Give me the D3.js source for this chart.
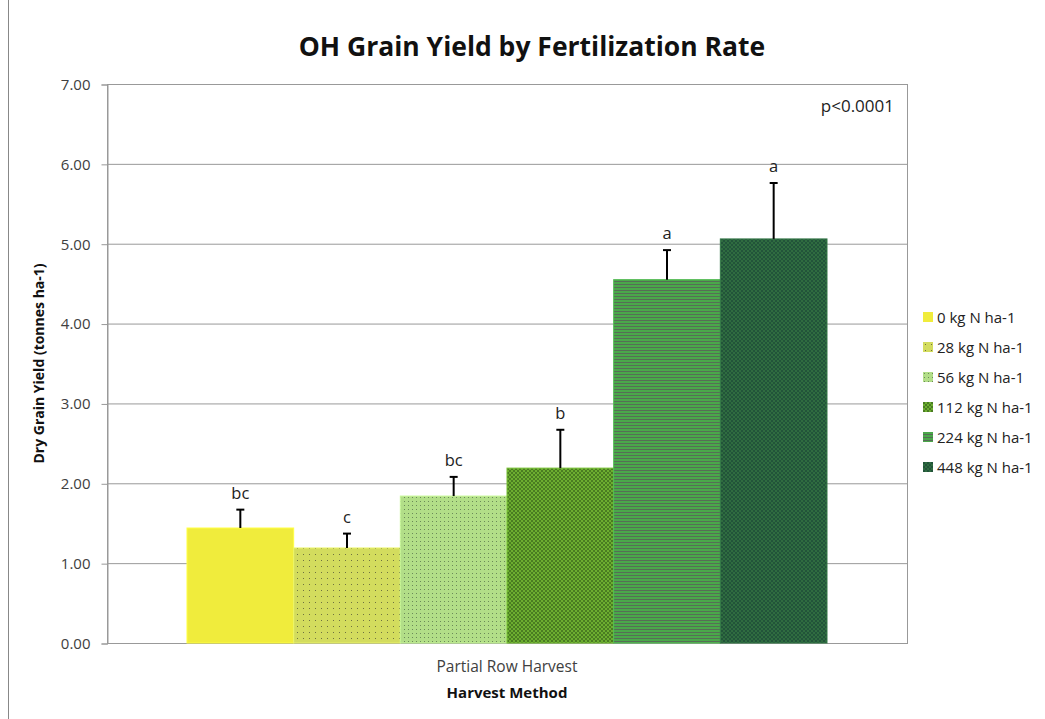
<!DOCTYPE html>
<html lang="en">
<head>
  <meta charset="UTF-8">
  <title>OH Grain Yield by Fertilization Rate</title>
  <style>
    body { margin: 0; background: #fff; }
  </style>
</head>
<body>
  <script src="https://d3js.org/d3.v7.min.js"></script>
  <script>
    const categories = ["Partial Row Harvest"];
    const rates = ["0 kg N ha-1", "28 kg N ha-1", "56 kg N ha-1", "112 kg N ha-1", "224 kg N ha-1", "448 kg N ha-1"];
    const yields = [1.44, 1.19, 1.84, 2.19, 4.55, 5.06];
    const errors = [0.23, 0.18, 0.24, 0.48, 0.37, 0.70];
    const letters = ["bc", "c", "bc", "b", "a", "a"];
    const yTicks = [0, 1, 2, 3, 4, 5, 6, 7];

    const [width, height] = [1045, 719];
    const margin = { top: 84, right: 138, bottom: 76, left: 107 };
    const font = "'Open Sans', Lato, sans-serif";

    const svg = d3.select(document.body)
      .append("svg")
      .attr("width", width)
      .attr("height", height)
      .attr("font-family", font);

    // patterns for the bars
    const defs = svg.append("defs");
    const pat = (id, w, h, bg, draw) => {
      const p = defs.append("pattern").attr("id", id)
        .attr("patternUnits", "userSpaceOnUse")
        .attr("width", w).attr("height", h);
      p.append("rect").attr("width", w).attr("height", h).attr("fill", bg);
      draw(p);
    };
    pat("p0", 4, 4, "#f0ec3c", () => {});
    pat("p1", 6, 6, "#d3dc5e", p => p.append("rect").attr("x", 2).attr("y", 2).attr("width", 1).attr("height", 1).attr("fill", "#6f7240"));
    pat("p2", 4, 4, "#b2de88", p => p.append("rect").attr("x", 1).attr("y", 1).attr("width", 1).attr("height", 1).attr("fill", "#6a8a58"));
    pat("p3", 4, 4, "#6cae30", p => {
      p.append("rect").attr("width", 2).attr("height", 2).attr("fill", "#4a7c22");
      p.append("rect").attr("x", 2).attr("y", 2).attr("width", 2).attr("height", 2).attr("fill", "#4a7c22");
    });
    pat("p4", 4, 3, "#4aa84a", p => p.append("rect").attr("y", 2).attr("width", 4).attr("height", 1).attr("fill", "#566e56"));
    pat("p5", 4, 4, "#2f6c40", p => {
      p.append("rect").attr("width", 2).attr("height", 2).attr("fill", "#22543a");
      p.append("rect").attr("x", 2).attr("y", 2).attr("width", 2).attr("height", 2).attr("fill", "#22543a");
    });
    const baseColors = ["#f0ec3c", "#d3dc5e", "#b2de88", "#6cae30", "#4aa84a", "#2f6c40"];
    const fills = rates.map((d, i) => `url(#p${i})`);

    // outer chart border
    svg.append("rect")
      .attr("x", 8.5).attr("y", -2)
      .attr("width", width).attr("height", height + 4)
      .attr("fill", "none").attr("stroke", "#888");

    const x0 = d3.scaleBand()
      .domain(categories)
      .range([margin.left, width - margin.right])
      .paddingInner(0)
      .paddingOuter(0.125);

    const x1 = d3.scaleBand()
      .domain(rates)
      .range([0, x0.bandwidth()]);

    const y = d3.scaleLinear()
      .domain([0, 7])
      .range([height - margin.bottom, margin.top]);

    // gridlines
    svg.append("g")
      .selectAll("line")
      .data(yTicks)
      .join("line")
      .attr("x1", margin.left)
      .attr("x2", width - margin.right)
      .attr("y1", d => y(d) + 0.5)
      .attr("y2", d => y(d) + 0.5)
      .attr("stroke", "#999");

    // plot frame
    svg.append("rect")
      .attr("x", margin.left + 0.5)
      .attr("y", margin.top + 0.5)
      .attr("width", width - margin.right - margin.left)
      .attr("height", height - margin.bottom - margin.top)
      .attr("fill", "none")
      .attr("stroke", "#999");

    // y axis
    svg.append("g")
      .attr("transform", `translate(${margin.left + 0.5},0.5)`)
      .call(d3.axisLeft(y).tickValues(yTicks).tickFormat(d3.format(".2f")).tickSize(6).tickPadding(11))
      .call(g => g.select(".domain").attr("stroke", "#999"))
      .call(g => g.selectAll(".tick line").attr("stroke", "#999"))
      .call(g => g.selectAll(".tick text")
        .attr("font-family", font)
        .attr("font-size", 15)
        .attr("fill", "#404040"));

    // bars
    const group = svg.append("g")
      .attr("transform", `translate(${x0(categories[0])},0)`);

    const bars = rates.map((r, i) => ({ rate: r, value: yields[i], err: errors[i], letter: letters[i], fill: fills[i], color: baseColors[i] }));

    group.selectAll("rect.bar")
      .data(bars)
      .join("rect")
      .attr("class", "bar")
      .attr("x", d => x1(d.rate))
      .attr("width", x1.bandwidth())
      .attr("y", d => y(d.value))
      .attr("height", d => y(0) - y(d.value))
      .attr("fill", d => d.fill)
      .attr("stroke", d => d3.color(d.color).brighter(0.3))
      .attr("stroke-width", 1);

    // error bars
    const cx = d => x1(d.rate) + x1.bandwidth() / 2;
    group.selectAll("line.err")
      .data(bars)
      .join("line")
      .attr("class", "err")
      .attr("x1", cx).attr("x2", cx)
      .attr("y1", d => y(d.value))
      .attr("y2", d => y(d.value + d.err))
      .attr("stroke", "#000")
      .attr("stroke-width", 2);
    group.selectAll("line.cap")
      .data(bars)
      .join("line")
      .attr("class", "cap")
      .attr("x1", d => cx(d) - 4).attr("x2", d => cx(d) + 4)
      .attr("y1", d => y(d.value + d.err))
      .attr("y2", d => y(d.value + d.err))
      .attr("stroke", "#000")
      .attr("stroke-width", 2);

    // letters
    group.selectAll("text.letter")
      .data(bars)
      .join("text")
      .attr("class", "letter")
      .attr("x", cx)
      .attr("y", d => y(d.value + d.err) - 11)
      .attr("text-anchor", "middle")
      .attr("font-size", 16.5)
      .attr("fill", "#222")
      .text(d => d.letter);

    // x category label
    svg.append("text")
      .attr("x", x0(categories[0]) + x0.bandwidth() / 2)
      .attr("y", 672)
      .attr("text-anchor", "middle")
      .attr("font-size", 15.5)
      .attr("fill", "#404040")
      .text(categories[0]);

    // axis titles
    svg.append("text")
      .attr("x", x0(categories[0]) + x0.bandwidth() / 2)
      .attr("y", 698)
      .attr("text-anchor", "middle")
      .attr("font-size", 15)
      .attr("font-weight", "bold")
      .attr("fill", "#111")
      .text("Harvest Method");

    svg.append("text")
      .attr("transform", `translate(44,${(margin.top + height - margin.bottom) / 2}) rotate(-90)`)
      .attr("text-anchor", "middle")
      .attr("font-size", 14)
      .attr("font-weight", "bold")
      .attr("fill", "#111")
      .text("Dry Grain Yield (tonnes ha-1)");

    // title
    svg.append("text")
      .attr("x", 532)
      .attr("y", 56)
      .attr("text-anchor", "middle")
      .attr("font-size", 26.5)
      .attr("font-weight", "bold")
      .attr("fill", "#111")
      .text("OH Grain Yield by Fertilization Rate");

    // p-value
    svg.append("text")
      .attr("x", 894)
      .attr("y", 112)
      .attr("text-anchor", "end")
      .attr("font-size", 17)
      .attr("fill", "#222")
      .text("p<0.0001");

    // legend
    const legend = svg.append("g")
      .attr("transform", "translate(923,312)")
      .selectAll("g")
      .data(bars)
      .join("g")
      .attr("transform", (d, i) => `translate(0,${i * 30})`);
    legend.append("rect")
      .attr("width", 10).attr("height", 10)
      .attr("fill", d => d.fill);
    legend.append("text")
      .attr("x", 14)
      .attr("y", 10.5)
      .attr("font-size", 15)
      .attr("fill", "#222")
      .text(d => d.rate);
  </script>
</body>
</html>
